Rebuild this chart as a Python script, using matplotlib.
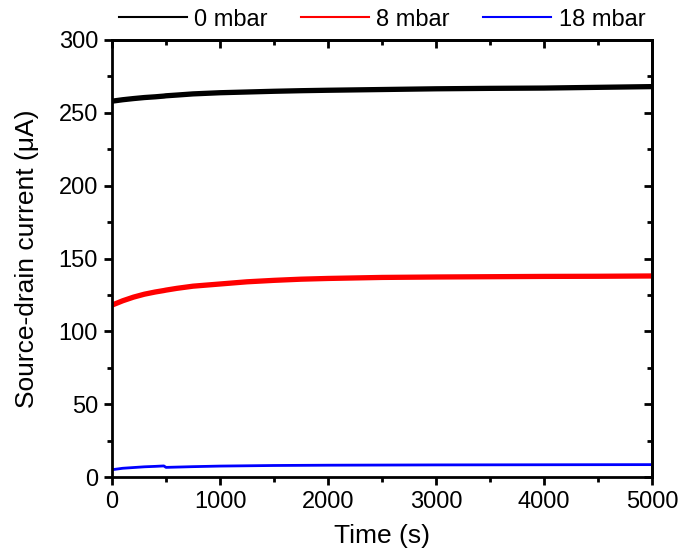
import matplotlib
matplotlib.use('Agg')
from matplotlib import pyplot as plt
from matplotlib.ticker import MultipleLocator

plt.rcParams['font.family'] = ['Liberation Sans', 'DejaVu Sans']

# Values
time_s = [0, 50, 100, 200, 300, 400, 480, 500, 600, 750, 1000, 1250, 1500,
          1750, 2000, 2500, 3000, 3500, 4000, 4500, 5000]
i_0mbar = [258, 258.5, 259, 259.8, 260.5, 261, 261.5, 261.7, 262.2, 263,
           263.8, 264.3, 264.8, 265.2, 265.5, 266, 266.5, 266.8, 267, 267.5,
           268]
i_8mbar = [118, 119.5, 121, 123.5, 125.5, 127, 128, 128.3, 129.5, 131,
           132.5, 134, 135, 135.8, 136.3, 137, 137.3, 137.5, 137.7, 137.8,
           138]
i_18mbar = [5, 5.5, 6, 6.5, 7, 7.3, 7.6, 6.6, 6.8, 7.1, 7.5, 7.7, 7.9, 8,
            8.1, 8.2, 8.3, 8.35, 8.4, 8.45, 8.5]

fig = plt.figure(figsize=(6.85, 5.57), dpi=100)
ax = fig.add_axes([112/685, 80/557, 540/685, 437/557])

ax.plot(time_s, i_0mbar, color='black', lw=3.8, label='0 mbar')
ax.plot(time_s, i_8mbar, color='red', lw=3.8, label='8 mbar')
ax.plot(time_s, i_18mbar, color='blue', lw=2, label='18 mbar')

ax.set_xlim(0, 5000)
ax.set_ylim(0, 300)


def set_ticks(axis):
    axis.set_major_locator(MultipleLocator(1000 if axis.axis_name == 'x' else 50))
    axis.set_minor_locator(MultipleLocator(500 if axis.axis_name == 'x' else 25))


set_ticks(ax.xaxis)
set_ticks(ax.yaxis)
for s in ax.spines.values():
    s.set_linewidth(2)
ax.tick_params(which='both', labelsize=17, width=2, direction='out')
ax.tick_params(which='major', length=6, pad=4)
ax.tick_params(which='minor', length=3.5)

# top and right ticks point inward, no labels
top = ax.secondary_xaxis('top')
right = ax.secondary_yaxis('right')
set_ticks(top.xaxis)
set_ticks(right.yaxis)
for sec in (top, right):
    sec.tick_params(which='both', width=2, direction='in', labelsize=0)
    sec.tick_params(which='major', length=6)
    sec.tick_params(which='minor', length=3.5)
    for s in sec.spines.values():
        s.set_linewidth(2)
top.set_xticklabels([])
right.set_yticklabels([])

ax.set_xlabel('Time (s)', fontsize=19, labelpad=8)
ax.set_ylabel('Source-drain current (\u03bcA)', fontsize=19, labelpad=14)

leg = ax.legend(loc='lower center', bbox_to_anchor=(0.5, 1.0), ncol=3,
                frameon=False, fontsize=17, handlelength=2.9,
                columnspacing=1.4, handletextpad=0.3, borderaxespad=0.0)
for h in leg.legend_handles:
    h.set_linewidth(1.5)

fig.savefig('out.png', dpi=100)
